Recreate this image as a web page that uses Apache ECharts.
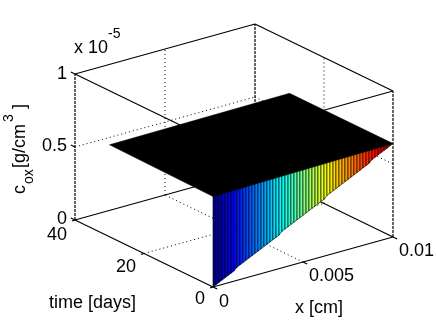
<!DOCTYPE html>
<html>
<head>
<meta charset="utf-8">
<script src="https://cdn.jsdelivr.net/npm/echarts@6/dist/echarts.min.js"></script>
<style>
  html, body { margin: 0; padding: 0; background: #fff; }
  #chart { width: 436px; height: 323px; }
</style>
</head>
<body>
<div id="chart"></div>
<script>
const xTicks = [0, 0.005, 0.01];
const xTickLabels = ["0", "0.005", "0.01"];
const timeTicks = [0, 20, 40];
const timeTickLabels = ["0", "20", "40"];
const coxTicks = [0, 0.5, 1];
const coxTickLabels = ["0", "0.5", "1"];

// surface mesh at time = 0, cox in units of 1e-5 g/cm3
const xMesh = [
  0, 0.00017, 0.00033, 0.0005, 0.00067, 0.00083, 0.001, 0.00117, 0.00133, 0.0015,
  0.00167, 0.00183, 0.002, 0.00217, 0.00233, 0.0025, 0.00267, 0.00283, 0.003, 0.00317,
  0.00333, 0.0035, 0.00367, 0.00383, 0.004, 0.00417, 0.00433, 0.0045, 0.00467, 0.00483,
  0.005, 0.00517, 0.00533, 0.0055, 0.00567, 0.00583, 0.006, 0.00617, 0.00633, 0.0065,
  0.00667, 0.00683, 0.007, 0.00717, 0.00733, 0.0075, 0.00767, 0.00783, 0.008, 0.00817,
  0.00833, 0.0085, 0.00867, 0.00883, 0.009, 0.00917, 0.00933, 0.0095, 0.00967, 0.00983,
  0.01
];
const coxAtStart = [
  0, 0.01, 0.02, 0.03, 0.04, 0.05, 0.06, 0.07, 0.09, 0.10,
  0.11, 0.12, 0.13, 0.14, 0.15, 0.16, 0.17, 0.18, 0.19, 0.20,
  0.21, 0.22, 0.23, 0.25, 0.26, 0.27, 0.28, 0.29, 0.30, 0.31,
  0.32, 0.33, 0.34, 0.35, 0.36, 0.37, 0.38, 0.39, 0.41, 0.42,
  0.43, 0.44, 0.45, 0.46, 0.47, 0.48, 0.49, 0.50, 0.51, 0.52,
  0.53, 0.54, 0.55, 0.57, 0.58, 0.59, 0.60, 0.61, 0.62, 0.63,
  0.64
];
// plateau corners: x, time, cox
const plateau = [
  [0, 0, 0.62],
  [0.01, 0, 0.64],
  [0.01, 30, 0.64],
  [0, 30, 0.63]
];
const jet = ["#00008f", "#0000ff", "#00ffff", "#ffff00", "#ff0000", "#800000"];
const jetStops = [0, 0.11, 0.37, 0.63, 0.89, 1];

// camera: screen position of the origin and screen vector of each full axis
const camera = {
  u0: 213, v0: 287,
  x: [180, -50],
  time: [-138, -67],
  cox: [0, -146]
};
const FONT = '"Liberation Sans", Arial, sans-serif';
const BIG = "18px " + FONT;
const SMALL = "14px " + FONT;

function project(x, time, cox) {
  const a = x / 0.01, b = time / 40;
  return [
    camera.u0 + a * camera.x[0] + b * camera.time[0],
    camera.v0 + a * camera.x[1] + b * camera.time[1] + cox * camera.cox[1]
  ];
}

function jetColor(f) {
  let i = 0;
  while (i < jetStops.length - 2 && f > jetStops[i + 1]) i++;
  return echarts.color.lerp((f - jetStops[i]) / (jetStops[i + 1] - jetStops[i]), [jet[i], jet[i + 1]]);
}

// one 3d segment per data row: x1, t1, z1, x2, t2, z2
function segmentSeries(rows, style) {
  return {
    type: "custom",
    coordinateSystem: "cartesian2d",
    silent: true,
    clip: false,
    z: style.z,
    data: rows,
    renderItem(params, api) {
      const a = api.coord(project(api.value(0), api.value(1), api.value(2)));
      const b = api.coord(project(api.value(3), api.value(4), api.value(5)));
      return {
        type: "line",
        shape: { x1: a[0], y1: a[1], x2: b[0], y2: b[1] },
        style: { stroke: "#000", lineWidth: style.width, lineDash: style.dash, fill: null }
      };
    }
  };
}

function tickLabelSeries(rows, align, dx, dys) {
  return {
    type: "custom",
    coordinateSystem: "cartesian2d",
    silent: true,
    clip: false,
    z: 6,
    data: rows,
    renderItem(params, api) {
      const p = api.coord(project(api.value(0), api.value(1), api.value(2)));
      return {
        type: "text",
        style: {
          text: rows[params.dataIndex][3],
          x: p[0] + dx,
          y: p[1] + dys[params.dataIndex],
          align: align,
          verticalAlign: "middle",
          font: BIG,
          fill: "#000"
        }
      };
    }
  };
}

const xMax = xTicks[2], tMax = timeTicks[2], zMax = coxTicks[2];

const boxEdges = [
  [0, tMax, zMax, xMax, tMax, zMax],
  [xMax, tMax, zMax, xMax, 0, zMax],
  [xMax, 0, zMax, 0, 0, zMax],
  [0, 0, zMax, 0, tMax, zMax],
  [0, tMax, 0, 0, 0, 0],
  [0, 0, 0, xMax, 0, 0],
  [xMax, 0, 0, xMax, tMax, 0],
  [xMax, tMax, 0, 0, tMax, 0]
];
const boxColumns = [
  [0, tMax, 0, 0, tMax, zMax],
  [xMax, tMax, 0, xMax, tMax, zMax],
  [xMax, 0, 0, xMax, 0, zMax]
];
const gridLines = [];
xTicks.slice(1, 2).forEach(x => {
  gridLines.push([x, tMax, 0, x, tMax, zMax], [x, 0, 0, x, tMax, 0]);
});
timeTicks.slice(1, 2).forEach(t => {
  gridLines.push([xMax, t, 0, xMax, t, zMax], [0, t, 0, xMax, t, 0]);
});
coxTicks.slice(1, 2).forEach(z => {
  gridLines.push([0, tMax, z, xMax, tMax, z], [xMax, tMax, z, xMax, 0, z]);
});
const tickMarks = [];
coxTicks.forEach(z => tickMarks.push([0, tMax, z, 0, tMax + 1.2, z]));
timeTicks.forEach(t => tickMarks.push([0, t, 0, -0.00016, t, 0]));
xTicks.forEach(x => tickMarks.push([x, 0, 0, x, -1.2, 0]));

const stripes = xMesh.slice(0, -1).map((x, i) => [x, xMesh[i + 1], coxAtStart[i], coxAtStart[i + 1], i]);

const option = {
  animation: false,
  backgroundColor: "#fff",
  grid: { left: 0, right: 0, top: 0, bottom: 0 },
  xAxis: { type: "value", min: 0, max: 436, show: false },
  yAxis: { type: "value", min: 0, max: 323, inverse: true, show: false },
  graphic: [
    {
      type: "group", x: 26, y: 194, rotation: Math.PI / 2, silent: true,
      children: [
        { type: "text", x: 0, y: -6, style: { text: "c", font: BIG, fill: "#000", verticalAlign: "middle" } },
        { type: "text", x: 10, y: 3.4, style: { text: "ox", font: SMALL, fill: "#000", verticalAlign: "middle" } },
        { type: "text", x: 26, y: -6, style: { text: "[g/cm", font: BIG, fill: "#000", verticalAlign: "middle" } },
        { type: "text", x: 72, y: -16.6, style: { text: "3", font: SMALL, fill: "#000", verticalAlign: "middle" } },
        { type: "text", x: 85, y: -6, style: { text: "]", font: BIG, fill: "#000", verticalAlign: "middle" } }
      ]
    },
    { type: "text", x: 74, y: 48, silent: true, style: { text: "x 10", font: BIG, fill: "#000", verticalAlign: "middle" } },
    { type: "text", x: 108, y: 34, silent: true, style: { text: "-5", font: SMALL, fill: "#000", verticalAlign: "middle" } },
    { type: "text", x: 49, y: 303, silent: true, style: { text: "time [days]", font: BIG, fill: "#000", verticalAlign: "middle" } },
    { type: "text", x: 295, y: 308, silent: true, style: { text: "x [cm]", font: BIG, fill: "#000", verticalAlign: "middle" } }
  ],
  series: [
    segmentSeries(gridLines, { width: 1, dash: [1, 3], z: 1 }),
    segmentSeries(boxEdges, { width: 1.2, z: 2 }),
    segmentSeries(boxColumns, { width: 1.2, dash: [3, 1], z: 2 }),
    segmentSeries(tickMarks, { width: 1.2, z: 2 }),
    {
      type: "custom",
      coordinateSystem: "cartesian2d",
      silent: true,
      clip: false,
      z: 3,
      data: stripes,
      renderItem(params, api) {
        const x0 = api.value(0), x1 = api.value(1);
        const top = plateau[1][2];
        const pts = [
          project(x0, 0, api.value(2)),
          project(x1, 0, api.value(3)),
          project(x1, 0, top),
          project(x0, 0, top)
        ].map(p => api.coord(p));
        return {
          type: "polygon",
          shape: { points: pts },
          style: { fill: jetColor(x0 / xMax), stroke: "rgba(0,0,0,0.7)", lineWidth: 0.9 }
        };
      }
    },
    {
      type: "custom",
      coordinateSystem: "cartesian2d",
      silent: true,
      clip: false,
      z: 4,
      data: [0],
      renderItem(params, api) {
        return {
          type: "polygon",
          shape: { points: plateau.map(c => api.coord(project(c[0], c[1], c[2]))) },
          style: { fill: "#000", stroke: "#000", lineWidth: 0.5 }
        };
      }
    },
    tickLabelSeries(coxTicks.map((z, i) => [0, tMax, z, coxTickLabels[i]]), "right", -8, [-1, -1, 0]),
    tickLabelSeries(timeTicks.map((t, i) => [0, t, 0, timeTickLabels[i]]), "right", -8, [12, 14, 15]),
    tickLabelSeries(xTicks.map((x, i) => [x, 0, 0, xTickLabels[i]]), "left", 6, [15, 14, 14])
  ]
};

const chart = echarts.init(document.getElementById("chart"), null, { renderer: "canvas" });
chart.setOption(option);
</script>
</body>
</html>
